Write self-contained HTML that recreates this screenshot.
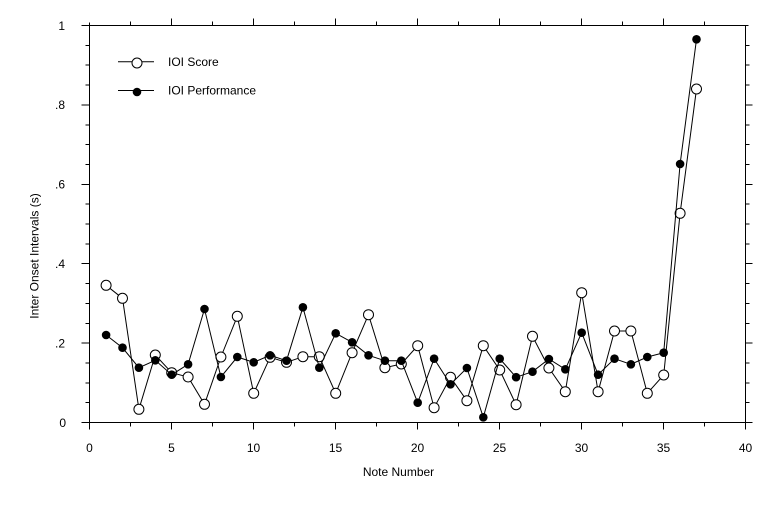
<!DOCTYPE html>
<html>
<head>
<meta charset="utf-8">
<style>
html,body{margin:0;padding:0;background:#fff;}
svg{display:block;}
text{font-family:"Liberation Sans",Arial,sans-serif;font-size:12px;fill:#000;}
</style>
</head>
<body>
<svg width="772" height="508" viewBox="0 0 772 508" xmlns="http://www.w3.org/2000/svg">
<rect width="772" height="508" fill="#fff"/>
<g stroke="#000" stroke-width="1" shape-rendering="crispEdges" fill="none">
<!-- frame -->
<line x1="89.5" y1="25.5" x2="89.5" y2="422.5"/>
<line x1="745.5" y1="25.5" x2="745.5" y2="422.5"/>
<line x1="89.5" y1="422.5" x2="745.5" y2="422.5"/>
<line x1="89.5" y1="25.5" x2="745.5" y2="25.5"/>
<!-- x ticks bottom (major) -->
<path d="M89.5 422.5v7M171.5 422.5v7M253.5 422.5v7M335.5 422.5v7M417.5 422.5v7M499.5 422.5v7M581.5 422.5v7M663.5 422.5v7M745.5 422.5v7"/>
<!-- x ticks bottom (minor) -->
<path d="M130.5 422.5v4M212.5 422.5v4M294.5 422.5v4M376.5 422.5v4M458.5 422.5v4M540.5 422.5v4M622.5 422.5v4M704.5 422.5v4"/>
<!-- x ticks top (major) -->
<path d="M89.5 25.5v-3M171.5 25.5v-7M253.5 25.5v-7M335.5 25.5v-7M417.5 25.5v-7M499.5 25.5v-7M581.5 25.5v-7M663.5 25.5v-7"/>
<!-- x ticks top (minor) -->
<path d="M130.5 25.5v-4M212.5 25.5v-4M294.5 25.5v-4M376.5 25.5v-4M458.5 25.5v-4M540.5 25.5v-4M622.5 25.5v-4M704.5 25.5v-4"/>
<!-- y ticks left major -->
<path d="M89.5 422.5h-8M89.5 343.1h-8M89.5 263.7h-8M89.5 184.3h-8M89.5 104.9h-8M89.5 25.5h-8"/>
<!-- y ticks left minor -->
<path d="M89.5 402.65h-4M89.5 382.8h-4M89.5 362.95h-4M89.5 323.25h-4M89.5 303.4h-4M89.5 283.55h-4M89.5 243.85h-4M89.5 224h-4M89.5 204.15h-4M89.5 164.45h-4M89.5 144.6h-4M89.5 124.75h-4M89.5 85.05h-4M89.5 65.2h-4M89.5 45.35h-4"/>
<!-- y ticks right major -->
<path d="M745.5 422.5h7M745.5 343.1h7M745.5 263.7h7M745.5 184.3h7M745.5 104.9h7M745.5 25.5h3"/>
<!-- y ticks right minor -->
<path d="M745.5 402.65h4M745.5 382.8h4M745.5 362.95h4M745.5 323.25h4M745.5 303.4h4M745.5 283.55h4M745.5 243.85h4M745.5 224h4M745.5 204.15h4M745.5 164.45h4M745.5 144.6h4M745.5 124.75h4M745.5 85.05h4M745.5 65.2h4M745.5 45.35h4"/>
</g>

<!-- tick labels -->
<g text-anchor="middle">
<text x="89.5" y="452">0</text>
<text x="171.5" y="452">5</text>
<text x="253.5" y="452">10</text>
<text x="335.5" y="452">15</text>
<text x="417.5" y="452">20</text>
<text x="499.5" y="452">25</text>
<text x="581.5" y="452">30</text>
<text x="663.5" y="452">35</text>
<text x="745.5" y="452">40</text>
</g>
<g text-anchor="end">
<text x="66" y="426.8">0</text>
<text x="65" y="347.4">.2</text>
<text x="65" y="268">.4</text>
<text x="65" y="188.6">.6</text>
<text x="65" y="109.2">.8</text>
<text x="65" y="29.8">1</text>
</g>

<!-- axis titles -->
<text x="398.5" y="476" text-anchor="middle">Note Number</text>
<text transform="translate(38.5,256) rotate(-90)" text-anchor="middle">Inter Onset Intervals (s)</text>

<!-- series: IOI Score (open) -->
<polyline fill="none" stroke="#000" stroke-width="1" points="106.1,285.3 122.5,298.3 138.9,409.3 155.3,355 171.7,372.7 188.1,377 204.5,404.3 220.9,357 237.3,316.3 253.7,393.3 270.1,357.3 286.5,362.3 302.9,356.7 319.3,356.7 335.7,393.3 352.1,352.7 368.5,314.7 384.9,367.7 401.3,364 417.7,345.7 434.1,407.7 450.5,377.3 466.9,400.7 483.3,345.7 499.7,370 516.1,404.7 532.5,336.3 548.9,368 565.3,391.7 581.7,292.7 598.1,391.7 614.5,331 630.9,331 647.3,393.3 663.7,375 680.1,213.3 696.5,89"/>
<g fill="#fff" stroke="#000" stroke-width="1">
<circle cx="106.1" cy="285.3" r="5"/><circle cx="122.5" cy="298.3" r="5"/><circle cx="138.9" cy="409.3" r="5"/><circle cx="155.3" cy="355" r="5"/><circle cx="171.7" cy="372.7" r="5"/><circle cx="188.1" cy="377" r="5"/><circle cx="204.5" cy="404.3" r="5"/><circle cx="220.9" cy="357" r="5"/><circle cx="237.3" cy="316.3" r="5"/><circle cx="253.7" cy="393.3" r="5"/><circle cx="270.1" cy="357.3" r="5"/><circle cx="286.5" cy="362.3" r="5"/><circle cx="302.9" cy="356.7" r="5"/><circle cx="319.3" cy="356.7" r="5"/><circle cx="335.7" cy="393.3" r="5"/><circle cx="352.1" cy="352.7" r="5"/><circle cx="368.5" cy="314.7" r="5"/><circle cx="384.9" cy="367.7" r="5"/><circle cx="401.3" cy="364" r="5"/><circle cx="417.7" cy="345.7" r="5"/><circle cx="434.1" cy="407.7" r="5"/><circle cx="450.5" cy="377.3" r="5"/><circle cx="466.9" cy="400.7" r="5"/><circle cx="483.3" cy="345.7" r="5"/><circle cx="499.7" cy="370" r="5"/><circle cx="516.1" cy="404.7" r="5"/><circle cx="532.5" cy="336.3" r="5"/><circle cx="548.9" cy="368" r="5"/><circle cx="565.3" cy="391.7" r="5"/><circle cx="581.7" cy="292.7" r="5"/><circle cx="598.1" cy="391.7" r="5"/><circle cx="614.5" cy="331" r="5"/><circle cx="630.9" cy="331" r="5"/><circle cx="647.3" cy="393.3" r="5"/><circle cx="663.7" cy="375" r="5"/><circle cx="680.1" cy="213.3" r="5"/><circle cx="696.5" cy="89" r="5"/>
</g>

<!-- series: IOI Performance (filled) -->
<polyline fill="none" stroke="#000" stroke-width="1" points="106.1,335 122.5,347.7 138.9,367.7 155.3,360.3 171.7,374.7 188.1,364.3 204.5,309 220.9,377 237.3,357 253.7,362.3 270.1,355.3 286.5,360.7 302.9,307.3 319.3,367.7 335.7,333.3 352.1,342.3 368.5,355.3 384.9,360.7 401.3,360.7 417.7,402.7 434.1,358.7 450.5,384.3 466.9,368 483.3,417.3 499.7,358.7 516.1,377.2 532.5,371.7 548.9,359 565.3,369.3 581.7,332.7 598.1,374.7 614.5,358.7 630.9,364.3 647.3,357 663.7,352.7 680.1,164 696.5,39.3"/>
<g fill="#000">
<circle cx="106.1" cy="335" r="4.3"/><circle cx="122.5" cy="347.7" r="4.3"/><circle cx="138.9" cy="367.7" r="4.3"/><circle cx="155.3" cy="360.3" r="4.3"/><circle cx="171.7" cy="374.7" r="4.3"/><circle cx="188.1" cy="364.3" r="4.3"/><circle cx="204.5" cy="309" r="4.3"/><circle cx="220.9" cy="377" r="4.3"/><circle cx="237.3" cy="357" r="4.3"/><circle cx="253.7" cy="362.3" r="4.3"/><circle cx="270.1" cy="355.3" r="4.3"/><circle cx="286.5" cy="360.7" r="4.3"/><circle cx="302.9" cy="307.3" r="4.3"/><circle cx="319.3" cy="367.7" r="4.3"/><circle cx="335.7" cy="333.3" r="4.3"/><circle cx="352.1" cy="342.3" r="4.3"/><circle cx="368.5" cy="355.3" r="4.3"/><circle cx="384.9" cy="360.7" r="4.3"/><circle cx="401.3" cy="360.7" r="4.3"/><circle cx="417.7" cy="402.7" r="4.3"/><circle cx="434.1" cy="358.7" r="4.3"/><circle cx="450.5" cy="384.3" r="4.3"/><circle cx="466.9" cy="368" r="4.3"/><circle cx="483.3" cy="417.3" r="4.3"/><circle cx="499.7" cy="358.7" r="4.3"/><circle cx="516.1" cy="377.2" r="4.3"/><circle cx="532.5" cy="371.7" r="4.3"/><circle cx="548.9" cy="359" r="4.3"/><circle cx="565.3" cy="369.3" r="4.3"/><circle cx="581.7" cy="332.7" r="4.3"/><circle cx="598.1" cy="374.7" r="4.3"/><circle cx="614.5" cy="358.7" r="4.3"/><circle cx="630.9" cy="364.3" r="4.3"/><circle cx="647.3" cy="357" r="4.3"/><circle cx="663.7" cy="352.7" r="4.3"/><circle cx="680.1" cy="164" r="4.3"/><circle cx="696.5" cy="39.3" r="4.3"/>
</g>

<!-- legend -->
<line x1="118" y1="61.7" x2="154" y2="61.7" stroke="#000" stroke-width="1"/>
<circle cx="137" cy="63" r="5" fill="#fff" stroke="#000" stroke-width="1"/>
<text x="168" y="66">IOI Score</text>
<line x1="118" y1="90.5" x2="154" y2="90.5" stroke="#000" stroke-width="1"/>
<circle cx="137" cy="92" r="4.3" fill="#000"/>
<text x="168" y="94.5">IOI Performance</text>
</svg>
</body>
</html>
